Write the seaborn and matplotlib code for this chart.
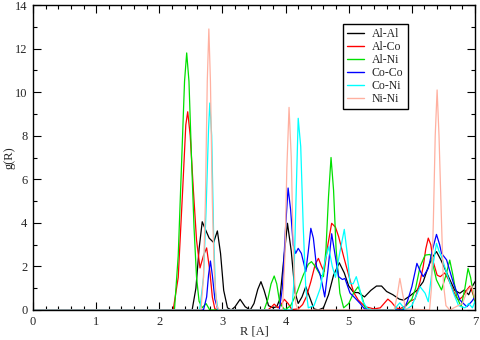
import matplotlib
matplotlib.use("Agg")
import matplotlib.pyplot as plt
import seaborn as sns
import pandas as pd
from matplotlib.ticker import MultipleLocator

# ---------------- data ----------------
pairs = ["Al-Al", "Al-Co", "Al-Ni", "Co-Co", "Co-Ni", "Ni-Ni"]
colors = ["#000000", "#ff0000", "#00e000", "#0000ff", "#00ffff", "#ffb0a0"]

r_alal = [0, 2.52, 2.58, 2.63, 2.68, 2.73, 2.79, 2.86, 2.92, 2.97, 3.02, 3.08, 3.14, 3.2, 3.28,
          3.36, 3.44, 3.5, 3.56, 3.61, 3.66, 3.73, 3.8, 3.86, 3.91, 3.96, 4.03, 4.09, 4.15, 4.2,
          4.26, 4.32, 4.38, 4.45, 4.52, 4.6, 4.68, 4.76, 4.85, 4.93, 5.0, 5.08, 5.15, 5.25, 5.35,
          5.44, 5.52, 5.6, 5.7, 5.8, 5.87, 5.97, 6.08, 6.18, 6.25, 6.32, 6.39, 6.46, 6.52, 6.6,
          6.68, 6.76, 6.83, 6.9, 6.96, 7.0]
g_alal = [0, 0, 1.0, 2.8, 4.05, 3.7, 3.3, 3.1, 3.63, 2.6, 0.9, 0.1, 0.0, 0.15, 0.49,
          0.15, 0.0, 0.3, 0.95, 1.3, 0.9, 0.2, 0.1, 0.15, 0.5, 2.0, 3.98, 2.7, 0.8, 0.3,
          0.6, 1.07, 0.6, 0.05, 0.0, 0.1, 0.7, 1.6, 2.17, 1.7, 1.1, 0.8, 0.8, 0.6, 0.9,
          1.1, 1.1, 0.85, 0.7, 0.5, 0.45, 0.65, 0.9, 1.3, 1.9, 2.4, 2.68, 2.3, 1.91, 1.4,
          0.9, 0.77, 0.92, 0.7, 1.1, 1.3]

r_alco = [0, 2.22, 2.3, 2.37, 2.42, 2.45, 2.49, 2.54, 2.59, 2.645, 2.7, 2.75, 2.8, 2.84, 2.88,
          2.95, 3.72, 3.78, 3.82, 3.88, 3.93, 3.98, 4.04, 4.1, 4.2, 4.27, 4.33, 4.4, 4.47, 4.52,
          4.57, 4.61, 4.67, 4.73, 4.79, 4.84, 4.92, 5.02, 5.08, 5.15, 5.26, 5.4, 5.5, 5.56, 5.62,
          5.68, 5.75, 5.81, 5.9, 5.97, 6.05, 6.13, 6.18, 6.22, 6.26, 6.3, 6.34, 6.4, 6.45, 6.52,
          6.58, 6.63, 6.7, 6.74, 6.8, 6.87, 6.92, 6.96, 7.0]
g_alco = [0, 0, 1.5, 5.5, 8.5, 9.1, 8.0, 5.5, 3.2, 1.93, 2.5, 2.85, 1.8, 0.6, 0.05,
          0, 0, 0.15, 0.27, 0.1, 0.25, 0.49, 0.3, 0.02, 0.05, 0.25, 0.61, 1.3, 2.1, 2.37,
          2.0, 1.76, 3.0, 3.98, 3.8, 3.37, 2.45, 1.38, 0.8, 0.46, 0.15, 0.05, 0.1, 0.3, 0.5,
          0.35, 0.1, 0.05, 0.2, 0.4, 0.5, 1.3, 2.0, 2.8, 3.3, 3.0, 2.2, 1.6, 1.53, 1.7,
          1.4, 1.07, 0.6, 0.46, 0.6, 0.92, 1.1, 0.8, 0.45]

r_alni = [0, 2.24, 2.3, 2.35, 2.4, 2.434, 2.47, 2.51, 2.55, 2.59, 2.63, 2.68, 2.74, 2.8,
          3.66, 3.72, 3.77, 3.82, 3.86, 3.91, 3.99, 4.08, 4.18, 4.28, 4.36, 4.41, 4.47, 4.55,
          4.6, 4.64, 4.68, 4.72, 4.76, 4.8, 4.86, 4.92, 5.0, 5.08, 5.15, 5.2, 5.26, 5.35, 5.84,
          5.92, 6.0, 6.06, 6.13, 6.21, 6.29, 6.34, 6.39, 6.47, 6.54, 6.6, 6.65, 6.71, 6.78, 6.84,
          6.89, 6.93, 6.97, 7.0]
g_alni = [0, 0, 2.5, 6.5, 10.5, 11.8, 10.5, 7.0, 3.8, 1.5, 0.4, 0.1, 0.3, 0,
          0, 0.5, 1.2, 1.56, 1.2, 0.3, 0.0, 0.2, 0.8, 1.6, 2.1, 2.22, 2.0, 1.6,
          1.53, 2.8, 5.2, 7.0, 5.5, 2.8, 0.77, 0.1, 0.3, 0.8, 1.07, 0.7, 0.1, 0.0, 0,
          0.23, 0.5, 1.0, 1.99, 2.52, 2.55, 2.0, 1.38, 0.92, 1.6, 2.29, 1.6, 0.61, 0.15, 1.0,
          1.91, 1.5, 0.8, 0.3]

r_coco = [0, 2.7, 2.75, 2.78, 2.81, 2.84, 2.88, 2.93, 3.9, 3.95, 4.0, 4.04, 4.08, 4.12, 4.16,
          4.2, 4.25, 4.32, 4.36, 4.4, 4.44, 4.49, 4.54, 4.58, 4.62, 4.67, 4.73, 4.78, 4.84, 4.9,
          4.94, 5.02, 5.1, 5.18, 5.25, 5.4, 5.87, 5.93, 6.0, 6.08, 6.13, 6.18, 6.26, 6.33, 6.39,
          6.44, 6.47, 6.55, 6.6, 6.66, 6.76, 6.87, 6.95, 7.0]
g_coco = [0, 0, 0.6, 1.6, 2.25, 1.6, 0.5, 0, 0, 1.0, 3.8, 5.6, 4.6, 3.0, 2.6,
          2.83, 2.6, 1.76, 2.7, 3.75, 3.3, 1.99, 1.7, 1.2, 0.6, 1.8, 3.5, 2.6, 1.53, 1.4,
          1.45, 0.78, 0.55, 0.3, 0.05, 0, 0, 0.4, 1.07, 2.14, 1.8, 1.53, 1.91, 2.8, 3.47,
          3.0, 2.6, 2.3, 1.8, 1.22, 0.46, 0.15, 0.4, 0.6]

r_coni = [0, 2.64, 2.7, 2.74, 2.78, 2.8, 2.83, 2.86, 2.89, 2.93, 4.1, 4.13, 4.16, 4.2, 4.24,
          4.28, 4.32, 4.36, 4.45, 4.55, 4.62, 4.68, 4.74, 4.79, 4.85, 4.93, 4.98, 5.02, 5.07, 5.12,
          5.17, 5.22, 5.3, 5.4, 5.72, 5.77, 5.81, 5.86, 5.9, 6.0, 6.06, 6.13, 6.21, 6.26, 6.32,
          6.39, 6.43, 6.47, 6.55, 6.66, 6.74, 6.84, 6.9, 6.96, 7.0]
g_coni = [0, 0, 1.5, 4.5, 8.3, 9.5, 8.0, 3.5, 0.8, 0, 0, 1.2, 4.5, 8.8, 7.5,
          3.8, 1.0, 0.1, 0.2, 1.0, 2.2, 2.9, 2.0, 1.5, 2.5, 3.7, 2.5, 1.22, 1.2, 1.53,
          1.0, 0.4, 0.05, 0, 0, 0.2, 0.33, 0.15, 0, 0.2, 0.6, 1.07, 0.77, 0.38, 1.8,
          3.06, 2.7, 2.45, 1.7, 0.77, 0.2, 0.1, 0.3, 0.1, 0.4]

r_nini = [0, 2.66, 2.7, 2.73, 2.76, 2.785, 2.81, 2.84, 2.87, 2.91, 2.95, 3.95, 3.99, 4.02, 4.055,
          4.09, 4.12, 4.16, 4.2, 5.72, 5.77, 5.81, 5.85, 5.9, 6.28, 6.31, 6.34, 6.37, 6.4, 6.43,
          6.47, 6.5, 6.54, 6.6, 6.8, 6.88, 6.95, 7.0]
g_nini = [0, 0, 1.5, 5.0, 10.5, 12.9, 10.5, 5.0, 1.8, 0.2, 0, 0, 2.5, 6.5, 9.3,
          7.0, 3.0, 0.3, 0, 0, 0.7, 1.45, 0.8, 0.05, 0, 1.0, 4.0, 8.0, 10.1, 8.0,
          4.0, 1.2, 0.2, 0, 0.3, 0.9, 1.1, 0.5]

r_series = [r_alal, r_alco, r_alni, r_coco, r_coni, r_nini]
g_series = [g_alal, g_alco, g_alni, g_coco, g_coni, g_nini]

frames = []
for name, rr, gg in zip(pairs, r_series, g_series):
    frames.append(pd.DataFrame({"R": rr, "g": gg, "pair": name}))
df = pd.concat(frames, ignore_index=True)

# ---------------- plot ----------------
sns.set_style("white")
plt.rcParams["font.family"] = ["Liberation Serif", "DejaVu Serif"]

fig = plt.figure(figsize=(4.8, 3.4), dpi=100)
ax = fig.add_axes([33 / 480, 1 - 310 / 340, (475 - 33) / 480, (310 - 5) / 340])

sns.lineplot(data=df, x="R", y="g", hue="pair", hue_order=pairs,
             palette=dict(zip(pairs, colors)), estimator=None, linewidth=0.9,
             ax=ax, legend=True)

ax.set_xlim(0, 7)
ax.set_ylim(0, 14)
ax.xaxis.set_major_locator(MultipleLocator(1))
ax.xaxis.set_minor_locator(MultipleLocator(0.2))
ax.yaxis.set_major_locator(MultipleLocator(2))
ax.yaxis.set_minor_locator(MultipleLocator(1))
ax.tick_params(which="both", direction="in", top=True, right=True,
               bottom=True, left=True, color="black", width=0.8, labelsize=9)
ax.tick_params(which="major", length=6, pad=4)
ax.tick_params(which="minor", length=3)
for s in ax.spines.values():
    s.set_color("black")
    s.set_linewidth(1.0)

ax.set_xlabel("R [A]", fontsize=9, va="center")
ax.xaxis.set_label_coords(0.5, (310 - 331) / 305)
ax.set_ylabel("g(R)", fontsize=9, va="center")
ax.yaxis.set_label_coords((9 - 33) / 442, 0.5)

handles, labels = ax.get_legend_handles_labels()
leg = ax.legend(handles, labels, loc="upper left",
                bbox_to_anchor=((343 - 33) / 442, (310 - 24) / 305),
                frameon=True, fancybox=False, edgecolor="black", framealpha=1,
                fontsize=8.5, handlelength=1.4, handletextpad=0.7,
                labelspacing=0.08, borderpad=0.35, borderaxespad=0)
leg.get_frame().set_linewidth(1.0)
for line in leg.get_lines():
    line.set_linewidth(1.0)

fig.savefig("out.png", dpi=100)
